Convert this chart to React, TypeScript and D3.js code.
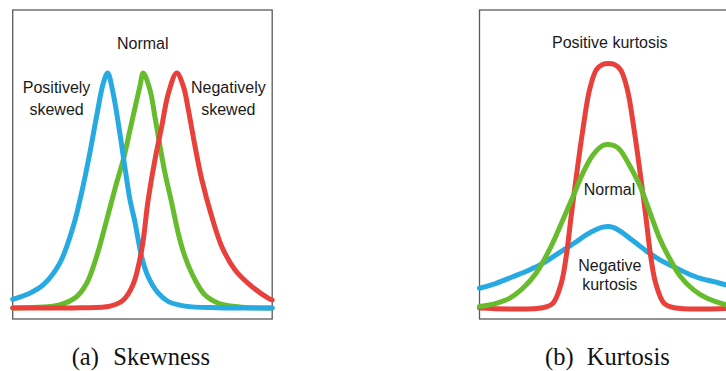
import React from "react";
import * as d3 from "d3";

type Pt = [number, number];

// Skewness panel: relative density vs. position (0–100 across the panel)
const positiveSkew: Pt[] = [
  [0, 0.037], [6.6, 0.063], [11.7, 0.098], [18.1, 0.19], [23.3, 0.346], [26.5, 0.488],
  [29.7, 0.658], [32.3, 0.814], [34.9, 0.956], [36.6, 1.0], [38.7, 0.914], [41.3, 0.743],
  [43.2, 0.601], [45.2, 0.46], [47.1, 0.366], [49.7, 0.218], [52.2, 0.133], [56.1, 0.063],
  [60.0, 0.027], [66.4, 0.008], [79.3, 0.001], [100, 0],
];
const normalSkew: Pt[] = [
  [0, 0], [11.7, 0.004], [18.1, 0.013], [24.6, 0.048], [28.5, 0.105], [32.3, 0.218],
  [36.2, 0.374], [40.0, 0.531], [42.6, 0.63], [45.2, 0.757], [47.8, 0.885], [49.0, 0.942],
  [50.3, 1.0], [52.9, 0.928], [54.8, 0.814], [56.8, 0.686], [58.7, 0.573], [61.3, 0.446],
  [63.8, 0.318], [66.4, 0.218], [70.3, 0.119], [74.1, 0.055], [79.3, 0.02], [85.7, 0.006],
  [92.2, 0.001], [100, 0],
];
const negativeSkew: Pt[] = [
  [0, 0], [25.9, 0.001], [37.5, 0.008], [42.6, 0.034], [46.4, 0.1], [49.7, 0.247],
  [52.2, 0.46], [54.8, 0.63], [57.4, 0.771], [60.0, 0.914], [63.2, 1.0], [65.8, 0.942],
  [67.7, 0.843], [70.3, 0.686], [72.9, 0.545], [76.7, 0.389], [80.6, 0.261], [85.7, 0.162],
  [92.2, 0.091], [98.6, 0.041], [100, 0.034],
];

// Kurtosis panel
const negativeKurt: Pt[] = [
  [0, 0.084], [6.4, 0.105], [12.8, 0.133], [19.2, 0.162], [24.4, 0.19], [29.5, 0.226],
  [33.4, 0.254], [37.3, 0.282], [41.1, 0.311], [45.0, 0.334], [47.5, 0.344], [49.7, 0.347],
  [52.0, 0.341], [54.2, 0.327], [59.4, 0.284], [64.6, 0.24], [69.7, 0.204], [74.8, 0.176],
  [80.0, 0.148], [85.1, 0.126], [90.3, 0.112], [95.2, 0.098], [100, 0.088],
];
const normalKurt: Pt[] = [
  [0, 0.006], [6.4, 0.02], [11.5, 0.041], [16.7, 0.084], [21.8, 0.148], [26.9, 0.247],
  [32.1, 0.374], [36.0, 0.474], [39.8, 0.573], [43.7, 0.651], [47.6, 0.692], [49.7, 0.696],
  [52.0, 0.69], [54.2, 0.672], [58.1, 0.601], [62.0, 0.516], [65.8, 0.403], [69.7, 0.289],
  [73.6, 0.204], [77.5, 0.133], [82.5, 0.077], [87.7, 0.041], [95.2, 0.013], [100, 0.006],
];
const positiveKurt: Pt[] = [
  [0, 0], [24.4, 0.001], [28.3, 0.02], [31.5, 0.105], [33.4, 0.218], [35.3, 0.389],
  [37.3, 0.559], [39.8, 0.757], [42.4, 0.928], [45.0, 1.013], [47.4, 1.036], [49.7, 1.04],
  [52.0, 1.036], [54.4, 1.013], [57.0, 0.928], [59.6, 0.757], [62.1, 0.559], [64.1, 0.389],
  [66.0, 0.218], [67.9, 0.105], [71.1, 0.02], [75.0, 0.001], [100, 0],
];

const skewLabels: { lines: string[]; x: number; y: number }[] = [
  { lines: ["Normal"], x: 50.1, y: 1.102 },
  { lines: ["Positively", "skewed"], x: 16.9, y: 0.915 },
  { lines: ["Negatively", "skewed"], x: 83.1, y: 0.915 },
];
const kurtLabels: { lines: string[]; x: number; y: number }[] = [
  { lines: ["Positive kurtosis"], x: 50.2, y: 1.106 },
  { lines: ["Normal"], x: 50.1, y: 0.481 },
  { lines: ["Negative", "kurtosis"], x: 50.2, y: 0.157 },
];

const BLUE = "#27a9e1";
const GREEN = "#67bc2d";
const RED = "#e8403a";

const W = 726;
const H = 371;

interface PanelProps {
  left: number;
  series: { data: Pt[]; color: string }[];
  labels: { lines: string[]; x: number; y: number }[];
  lineGap: number;
  caption: [string, string];
  captionX: [number, number];
}

function Panel({ left, series, labels, lineGap, caption, captionX }: PanelProps) {
  const width = 259.5;
  const top = 10;
  const bottom = 319;
  const x = d3.scaleLinear().domain([0, 100]).range([left, left + width]);
  const y = d3.scaleLinear().domain([0, 1]).range([308, 73]);
  const line = d3
    .line<Pt>()
    .x((d) => x(d[0]))
    .y((d) => y(d[1]))
    .curve(d3.curveCatmullRom.alpha(0.5));

  return (
    <g>
      <rect
        x={left}
        y={top}
        width={width}
        height={bottom - top}
        fill="none"
        stroke="#5a5a5a"
        strokeWidth={1.3}
      />
      {series.map((s, i) => (
        <path
          key={i}
          d={line(s.data) ?? ""}
          fill="none"
          stroke={s.color}
          strokeWidth={5}
          strokeLinejoin="round"
          strokeLinecap="round"
        />
      ))}
      {labels.map((l, i) => (
        <text
          key={i}
          textAnchor="middle"
          fontFamily="'Liberation Sans', Arial, Helvetica, sans-serif"
          fontSize={16}
          fill="#1a1a1a"
        >
          {l.lines.map((t, j) => (
            <tspan key={j} x={x(l.x)} y={y(l.y) + j * lineGap}>
              {t}
            </tspan>
          ))}
        </text>
      ))}
      <text
        fontFamily="'Liberation Serif', 'Times New Roman', Times, serif"
        fontSize={24.5}
        fill="#111"
      >
        <tspan x={captionX[0]} y={365}>
          {caption[0]}
        </tspan>
        <tspan x={captionX[1]} y={365}>
          {caption[1]}
        </tspan>
      </text>
    </g>
  );
}

export default function App() {
  return (
    <svg
      width={W}
      height={H}
      viewBox={`0 0 ${W} ${H}`}
      style={{ position: "absolute", left: 0, top: 0, background: "#fff" }}
    >
      <rect x={0} y={0} width={W} height={H} fill="#fff" />
      <Panel
        left={12.7}
        series={[
          { data: normalSkew, color: GREEN },
          { data: positiveSkew, color: BLUE },
          { data: negativeSkew, color: RED },
        ]}
        labels={skewLabels}
        lineGap={22}
        caption={["(a)", "Skewness"]}
        captionX={[71.7, 113.3]}
      />
      <Panel
        left={479.5}
        series={[
          { data: negativeKurt, color: BLUE },
          { data: positiveKurt, color: RED },
          { data: normalKurt, color: GREEN },
        ]}
        labels={kurtLabels}
        lineGap={18.5}
        caption={["(b)", "Kurtosis"]}
        captionX={[545, 586.7]}
      />
    </svg>
  );
}
